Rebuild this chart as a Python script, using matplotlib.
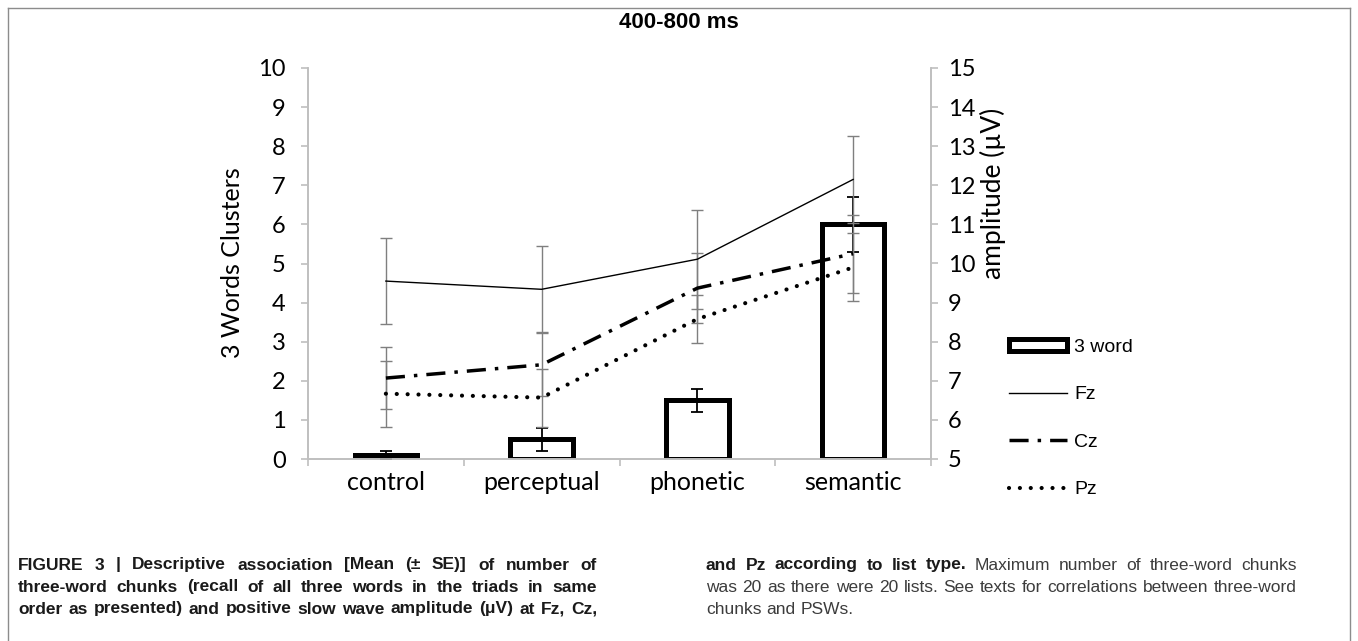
import numpy as np
import matplotlib
matplotlib.use('Agg')
import matplotlib.pyplot as plt
from matplotlib.lines import Line2D
from matplotlib.patches import Patch

# ── Data ──
categories = ['control', 'perceptual', 'phonetic', 'semantic']

# three-word chunks (left axis)
word3_mean = [0.1, 0.5, 1.5, 6.0]
word3_se = [0.1, 0.3, 0.3, 0.7]

# slow wave amplitude in microvolts (right axis)
fz_mean = [9.55, 9.34, 10.11, 12.15]
fz_se = [1.1, 1.1, 1.27, 1.12]
cz_mean = [7.07, 7.41, 9.37, 10.25]
cz_se = [0.79, 0.8, 0.9, 1.0]
pz_mean = [6.67, 6.57, 8.58, 9.9]
pz_se = [0.84, 0.74, 0.62, 0.87]

W, H = 1358, 641
TICK_FONT = ['Lato', 'DejaVu Sans']
SANS = ['Liberation Sans', 'DejaVu Sans']
GRID_GREY = '#bfbfbf'
ERR_GREY = '#7f7f7f'
CAP_DARK = '#1a1a1a'
CAP_GREY = '#3c3c3c'


def fx(px):
    return px / W


def fy(py):
    return 1 - py / H


fig = plt.figure(figsize=(W / 100, H / 100), dpi=100)

# axes box: left spine x=308, right spine x=931, y=0 at 459, y=10 at 68
ax = fig.add_axes([fx(308), fy(459), fx(931) - fx(308), fy(68) - fy(459)])
ax2 = ax.twinx()

x = np.arange(len(categories))

# bars
ax.bar(x, word3_mean, width=0.4, facecolor='white', edgecolor='black',
       linewidth=3.6, zorder=2)
ax.errorbar(x, word3_mean, yerr=word3_se, fmt='none', ecolor='black',
            elinewidth=1.3, capsize=4.5, capthick=1.3, zorder=3)

# amplitude lines
for m, s in [(fz_mean, fz_se), (cz_mean, cz_se), (pz_mean, pz_se)]:
    ax2.errorbar(x, m, yerr=s, fmt='none', ecolor=ERR_GREY, elinewidth=1.0,
                 capsize=4.5, capthick=1.0, zorder=2)

ax2.plot(x, fz_mean, color='black', linewidth=1.0, zorder=4)
ln_cz, = ax2.plot(x, cz_mean, color='black', linewidth=2.5, zorder=4,
                  dash_capstyle='butt')
ln_cz.set_dashes((5.5, 2.6, 1.0, 2.6))
ln_pz, = ax2.plot(x, pz_mean, color='black', linewidth=3.0, zorder=4,
                  dash_capstyle='round')
ln_pz.set_dashes((0.01, 2.6))

# axes styling
ax.set_xlim(-0.5, 3.5)
ax.set_ylim(0, 10)
ax2.set_ylim(5, 15)
ax.set_yticks(np.arange(0, 11, 1))
ax2.set_yticks(np.arange(5, 16, 1))
ax.set_xticks(x)
ax.set_xticklabels(categories)
ax.set_xticks(np.arange(-0.5, 4, 1), minor=True)

for a in (ax, ax2):
    a.set_facecolor('none')
    a.spines['top'].set_visible(False)
    for sp in ('left', 'right', 'bottom'):
        a.spines[sp].set_color(GRID_GREY)
        a.spines[sp].set_linewidth(1.2)

ax.tick_params(axis='x', which='major', length=0, pad=9, labelsize=18)
ax.tick_params(axis='x', which='minor', length=5, color=GRID_GREY, width=1.2)
ax.tick_params(axis='y', length=5, color=GRID_GREY, width=1.2, pad=11,
               labelsize=17)
ax2.tick_params(axis='y', length=5, color=GRID_GREY, width=1.2, pad=7,
                labelsize=17)
for lab in ax.get_xticklabels() + ax.get_yticklabels() + ax2.get_yticklabels():
    lab.set_family(TICK_FONT)

# axis titles
fig.text(fx(232), fy(263), '3 Words Clusters', rotation=90, fontsize=18,
         family=TICK_FONT, ha='center', va='center')
fig.text(fx(993), fy(193), 'amplitude (\u00b5V)', rotation=90, fontsize=19,
         family=TICK_FONT, ha='center', va='center')

# title
fig.text(0.5, fy(22), '400-800 ms', fontsize=16, fontweight='bold',
         family=SANS, ha='center', va='center')

# legend
handles = [
    Patch(facecolor='white', edgecolor='black', linewidth=3.6),
    Line2D([], [], color='black', linewidth=1.0),
    Line2D([], [], color='black', linewidth=2.5, dashes=(5.5, 2.6, 1.0, 2.6)),
    Line2D([], [], color='black', linewidth=3.0, dashes=(0.01, 2.6),
           dash_capstyle='round'),
]
fig.legend(handles, ['3 word', 'Fz', 'Cz', 'Pz'], loc='upper left',
           bbox_to_anchor=(fx(1009), fy(339)), frameon=False,
           prop={'family': SANS, 'size': 14}, handlelength=3.0,
           handleheight=0.6, handletextpad=0.35, labelspacing=1.56,
           borderpad=0, borderaxespad=0)

# frame around the figure panel
for xs, ys in [([8, 8], [H + 5, 8]), ([8, 1350], [8, 8]), ([1350, 1350], [8, H + 5])]:
    fig.add_artist(Line2D([fx(v) for v in xs], [fy(v) for v in ys],
                          color='#8c8c8c', linewidth=1.0))

# caption, justified in two columns
cap_size = 12.5
renderer = fig.canvas.get_renderer()


def put_line(words, x0, x1, yy, justify=True):
    """words: list of (text, weight, colour); spread them from x0 to x1."""
    arts = []
    for w, weight, col in words:
        t = fig.text(fx(x0), fy(yy), w, fontsize=cap_size, fontweight=weight,
                     family=SANS, va='center', ha='left', color=col)
        arts.append(t)
    widths = [t.get_window_extent(renderer).width for t in arts]
    space = cap_size * 100 / 72 * 0.28
    if justify and len(arts) > 1:
        space = max((x1 - x0 - sum(widths)) / (len(arts) - 1), 2.0)
    pos = x0
    for t, wd in zip(arts, widths):
        t.set_x(fx(pos))
        pos += wd + space


def words_of(text, weight, col):
    return [(w, weight, col) for w in text.split(' ')]


line_y = [565, 587, 609]
left_lines = [
    'FIGURE 3 | Descriptive association [Mean (\u00b1 SE)] of number of',
    'three-word chunks (recall of all three words in the triads in same',
    'order as presented) and positive slow wave amplitude (\u03bcV) at Fz, Cz,',
]
for t, yy in zip(left_lines, line_y):
    put_line(words_of(t, 'bold', CAP_DARK), 18, 597, yy)

right_lines = [
    words_of('and Pz according to list type.', 'bold', CAP_DARK)
    + words_of('Maximum number of three-word chunks', 'normal', CAP_GREY),
    words_of('was 20 as there were 20 lists. See texts for correlations '
             'between three-word', 'normal', CAP_GREY),
    words_of('chunks and PSWs.', 'normal', CAP_GREY),
]
for i, (ws, yy) in enumerate(zip(right_lines, line_y)):
    put_line(ws, 706, 1297, yy, justify=(i < 2))

fig.savefig('out.png', dpi=100)
